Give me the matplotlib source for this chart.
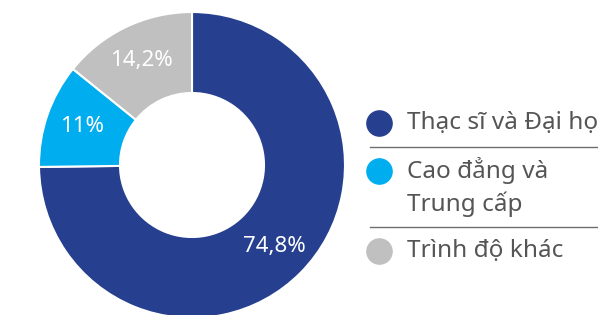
import matplotlib
matplotlib.use('Agg')
import matplotlib.pyplot as plt

plt.rcParams['font.family'] = ['Noto Sans', 'DejaVu Sans']

# Data
categories = ['Thạc sĩ và Đại học', 'Cao đẳng và\nTrung cấp', 'Trình độ khác']
values = [74.8, 11.0, 14.2]
pct_labels = ['74,8%', '11%', '14,2%']
colors = ['#26408f', '#00aeef', '#c0c0c0']

fig = plt.figure(figsize=(5.98, 3.15), dpi=100)
ax = fig.add_axes([0, 0, 1, 1])

# Donut
ax.pie(values, colors=colors, labels=pct_labels, labeldistance=0.76,
       startangle=90, counterclock=False, center=(192, 150), radius=153,
       wedgeprops=dict(width=81, edgecolor='white', linewidth=1.5),
       textprops=dict(color='white', fontsize=16, ha='center', va='center'),
       frame=True)
ax.set_xlim(0, 598)
ax.set_ylim(0, 315)
ax.set_aspect('equal')
ax.axis('off')

# Legend (manual, with separator lines)
marker_y = [192, 144, 64]
text_y = [192, 128, 64]
for c, label, my, ty in zip(colors, categories, marker_y, text_y):
    ax.scatter([379], [my], s=330, color=c, zorder=3, clip_on=False)
    ax.text(407, ty, label, fontsize=17.5, color='#555555', va='center',
            ha='left', linespacing=1.35)
for ly in [168, 88]:
    ax.plot([370, 598], [ly, ly], color='#6e6e6e', linewidth=1.0)

fig.savefig('out.png', dpi=100)
